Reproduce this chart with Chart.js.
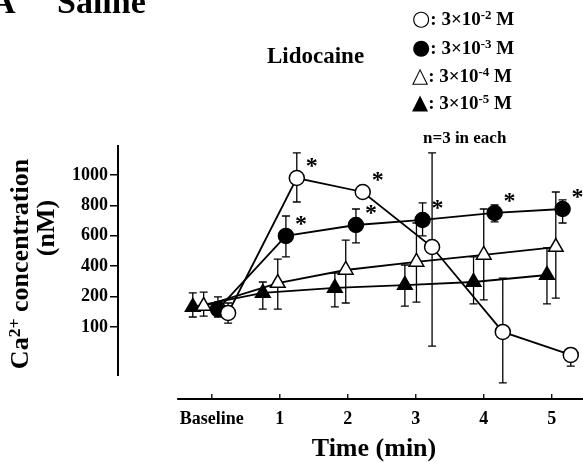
<!DOCTYPE html>
<html lang="en">
<head>
<meta charset="UTF-8">
<meta name="viewport" content="width=device-width, initial-scale=1.0">
<title>Saline – Lidocaine, Ca2+ concentration</title>
<script src="https://cdn.jsdelivr.net/npm/chart.js"></script>
<style>
  body { margin: 0; background: #fff; }
  .fig {
    position: relative; width: 583px; height: 462px; overflow: hidden;
    font-family: 'Liberation Serif', 'Times New Roman', serif; font-weight: bold; color: #000;
  }
  .fig canvas { position: absolute; left: 0; top: 0; }
  .txt { position: absolute; white-space: nowrap; }
  .panel { font-size: 34px; line-height: 34px; top: -15px; }
  .drug { font-size: 23px; line-height: 23px; left: 267px; top: 44px; }
  .key { font-size: 19px; line-height: 20px; left: 412px; }
  .key .sym { font-family: 'DejaVu Sans', sans-serif; font-weight: normal; font-size: 21px; }
  .note { font-size: 17px; line-height: 17px; left: 423px; top: 129px; }
  .key sup, .ytitle sup { font-size: 0.68em; line-height: 0; position: relative; top: -0.45em; vertical-align: baseline; }
  .ytitle { font-size: 26px; line-height: 26px; transform: translate(-50%, -50%) rotate(-90deg); }
  .xtitle { font-size: 26px; line-height: 26px; left: 374px; top: 435px; transform: translateX(-50%); }
</style>
</head>
<body>
<div class="fig">
  <canvas id="chart" width="583" height="462"></canvas>
  <div class="txt panel" style="left:-9px">A</div>
  <div class="txt panel" style="left:57px">Saline</div>
  <div class="txt drug">Lidocaine</div>
  <div class="txt key" style="top:8px"><span class="sym">○</span>: 3×10<sup>-2</sup> M</div>
  <div class="txt key" style="top:37px"><span class="sym">●</span>: 3×10<sup>-3</sup> M</div>
  <div class="txt key" style="top:65px"><span class="sym">△</span>: 3×10<sup>-4</sup> M</div>
  <div class="txt key" style="top:92px"><span class="sym">▲</span>: 3×10<sup>-5</sup> M</div>
  <div class="txt note">n=3 in each</div>
  <div class="txt ytitle" style="left:20px; top:264px">Ca<sup>2+</sup> concentration</div>
  <div class="txt ytitle" style="left:46px; top:228px">(nM)</div>
  <div class="txt xtitle">Time (min)</div>
</div>

<script>
  // axis labels
  const xTickValues = [0, 1, 2, 3, 4, 5];
  const xTickLabels = ['Baseline', '1', '2', '3', '4', '5'];
  const yTicks = [100, 200, 400, 600, 800, 1000];

  // 3x10^-2 M (open circle)
  const ocTime = [0.24, 1.25, 2.22, 3.24, 4.28, 5.28];
  const ocMean = [146, 980, 888, 526, 90, 43];
  const ocHi = [179, 1145, 900, 1145, 322, 50];
  const ocLo = [113, 822, 876, 61, -14, 20];
  const ocStar = [0, 1, 1, 0, 0, 0];

  // 3x10^-3 M (filled circle)
  const fcTime = [0.09, 1.09, 2.12, 3.10, 4.16, 5.16];
  const fcMean = [159, 599, 671, 704, 750, 776];
  const fcHi = [199, 730, 776, 816, 803, 836];
  const fcLo = [133, 461, 553, 599, 691, 684];
  const fcStar = [0, 1, 1, 1, 1, 1];

  // 3x10^-4 M (open triangle)
  const otTime = [-0.12, 0.97, 1.97, 3.01, 4.00, 5.06];
  const otMean = [169, 289, 375, 428, 474, 526];
  const otHi = [230, 447, 572, 684, 776, 888];
  const otLo = [136, 159, 179, 182, 189, 195];

  // 3x10^-5 M (filled triangle)
  const ftTime = [-0.28, 0.75, 1.81, 2.84, 3.85, 4.93];
  const ftMean = [166, 224, 257, 276, 296, 342];
  const ftHi = [224, 296, 355, 408, 461, 520];
  const ftLo = [133, 159, 166, 169, 176, 176];

  // the printed y axis is not linear: labelled ticks are evenly spaced,
  // and zero (the end of the axis line) sits ZERO_SPAN steps below the first tick
  const ZERO_SPAN = 1.61;

  function toStep(v) {
    const t = yTicks, n = t.length;
    if (v < t[0]) return 1 - (t[0] - v) / t[0] * ZERO_SPAN;
    for (let i = 0; i < n - 1; i++) {
      if (v <= t[i + 1]) return i + 1 + (v - t[i]) / (t[i + 1] - t[i]);
    }
    return n + (v - t[n - 1]) / (t[n - 1] - t[n - 2]);
  }

  function fromStep(u) {
    const t = yTicks, n = t.length;
    if (u < 1) return t[0] - (1 - u) / ZERO_SPAN * t[0];
    if (u >= n) return t[n - 1] + (u - n) * (t[n - 1] - t[n - 2]);
    const i = Math.floor(u) - 1;
    return t[i] + (u - i - 1) * (t[i + 1] - t[i]);
  }

  class SteppedScale extends Chart.LinearScale {
    determineDataLimits() {
      this.min = toStep(this.options.min);
      this.max = toStep(this.options.max);
    }
    buildTicks() {
      return yTicks.map(v => ({ value: v }));
    }
    getPixelForValue(v) {
      return v === null ? NaN : super.getPixelForValue(toStep(v));
    }
    getValueForPixel(p) {
      return fromStep(super.getValueForPixel(p));
    }
  }
  SteppedScale.id = 'stepped';
  SteppedScale.defaults = {};
  Chart.register(SteppedScale);

  const points = (xs, ys) => xs.map((x, i) => ({ x: x, y: ys[i] }));
  const serif = 'Liberation Serif, Times New Roman, serif';

  const series = (xs, ys, hi, lo, style, fill, radius, stars) => ({
    data: points(xs, ys),
    errHi: hi,
    errLo: lo,
    stars: stars || [],
    borderColor: '#000',
    borderWidth: 1.8,
    tension: 0,
    pointStyle: style,
    pointRadius: radius,
    pointBackgroundColor: fill,
    pointBorderColor: '#000',
    pointBorderWidth: 1.5
  });

  const decor = {
    id: 'decor',
    beforeDatasetsDraw(chart) {
      const { ctx, scales: { x, y } } = chart;
      ctx.save();
      ctx.strokeStyle = '#000';
      ctx.lineWidth = 2;
      ctx.beginPath();
      ctx.moveTo(y.right, y.top);
      ctx.lineTo(y.right, y.getPixelForValue(0));
      ctx.moveTo(x.getPixelForValue(-0.51), x.top);
      ctx.lineTo(x.right, x.top);
      ctx.stroke();
      ctx.lineWidth = 1.3;
      ctx.beginPath();
      x.ticks.forEach(t => {
        const px = x.getPixelForValue(t.value);
        ctx.moveTo(px, x.top);
        ctx.lineTo(px, x.top - 5);
      });
      chart.data.datasets.forEach((ds, i) => {
        chart.getDatasetMeta(i).data.forEach((pt, j) => {
          const top = y.getPixelForValue(ds.errHi[j]);
          const bot = y.getPixelForValue(ds.errLo[j]);
          ctx.moveTo(pt.x, top);
          ctx.lineTo(pt.x, bot);
          ctx.moveTo(pt.x - 4, top);
          ctx.lineTo(pt.x + 4, top);
          ctx.moveTo(pt.x - 4, bot);
          ctx.lineTo(pt.x + 4, bot);
        });
      });
      ctx.stroke();
      ctx.restore();
    },
    afterDatasetsDraw(chart) {
      const { ctx } = chart;
      ctx.save();
      ctx.fillStyle = '#000';
      ctx.font = 'bold 24px ' + serif;
      ctx.textAlign = 'center';
      ctx.textBaseline = 'alphabetic';
      chart.data.datasets.forEach((ds, i) => {
        chart.getDatasetMeta(i).data.forEach((pt, j) => {
          if (ds.stars[j]) ctx.fillText('*', pt.x + 15, pt.y - 5);
        });
      });
      ctx.restore();
    }
  };

  new Chart(document.getElementById('chart'), {
    type: 'line',
    data: {
      datasets: [
        series(ocTime, ocMean, ocHi, ocLo, 'circle', '#fff', 7.5, ocStar),
        series(fcTime, fcMean, fcHi, fcLo, 'circle', '#000', 7.5, fcStar),
        series(otTime, otMean, otHi, otLo, 'triangle', '#fff', 8.5),
        series(ftTime, ftMean, ftHi, ftLo, 'triangle', '#000', 8.5)
      ]
    },
    options: {
      responsive: false,
      animation: false,
      layout: { autoPadding: false, padding: { top: 145, left: 0, right: 0, bottom: 0 } },
      plugins: { legend: { display: false }, tooltip: { enabled: false } },
      scales: {
        x: {
          type: 'linear',
          min: -1.38,
          max: 5.46,
          afterBuildTicks: s => { s.ticks = xTickValues.map(v => ({ value: v })); },
          afterFit: s => { s.height = 63; },
          border: { display: false },
          grid: { display: false, drawTicks: false },
          ticks: {
            color: '#000',
            padding: 10,
            maxRotation: 0,
            autoSkip: false,
            font: { family: serif, weight: 'bold', size: 18 },
            callback: v => xTickLabels[xTickValues.indexOf(v)]
          }
        },
        y: {
          type: 'stepped',
          min: -47,
          max: 1197,
          afterFit: s => { s.width = 118; },
          border: { display: false },
          grid: { drawOnChartArea: false, drawTicks: true, tickLength: 8, color: '#000', lineWidth: 1.5 },
          ticks: {
            color: '#000',
            padding: 2,
            autoSkip: false,
            font: { family: serif, weight: 'bold', size: 18 },
            callback: v => String(v)
          }
        }
      }
    },
    plugins: [decor]
  });
</script>
</body>
</html>
